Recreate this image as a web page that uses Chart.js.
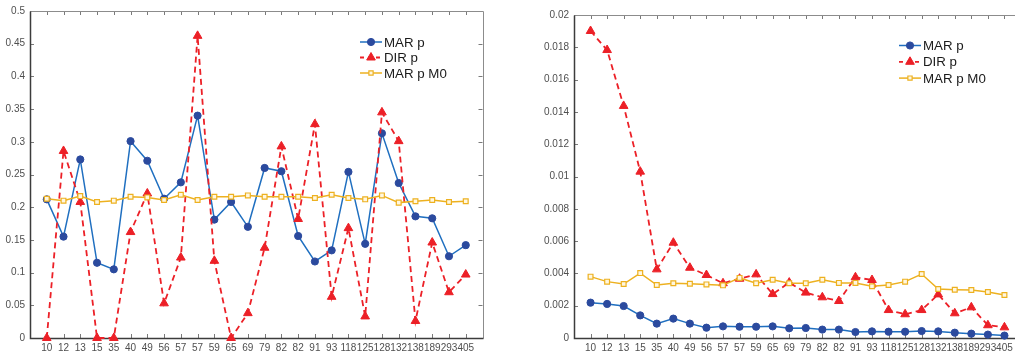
<!DOCTYPE html>
<html>
<head>
<meta charset="utf-8">
<script src="https://cdn.jsdelivr.net/npm/chart.js@4/dist/chart.umd.min.js"></script>
<style>
  html, body { margin: 0; padding: 0; background: #fff; overflow: hidden; }
  body { width: 1015px; height: 356px; position: relative; }
  canvas { position: absolute; top: 0; }
  #leftChart { left: 0; }
  #rightChart { left: 540px; }
</style>
</head>
<body>
<canvas id="leftChart" width="500" height="356"></canvas>
<canvas id="rightChart" width="490" height="356"></canvas>
<script>
const categories = ['10', '12', '13', '15', '35', '40', '49', '56', '57', '57', '59', '65', '69',
    '79', '82', '82', '91', '93', '118', '125', '128', '132', '138', '189', '293', '405'];
const seriesNames = ['MAR p', 'DIR p', 'MAR p M0'];

// left panel
const marP = [0.212, 0.155, 0.273, 0.115, 0.105, 0.301, 0.271, 0.213, 0.238, 0.340, 0.181, 0.208, 0.170,
    0.260, 0.255, 0.156, 0.117, 0.134, 0.254, 0.144, 0.313, 0.237, 0.186, 0.183, 0.125, 0.142];
const dirP = [0, 0.286, 0.208, 0, 0, 0.162, 0.221, 0.053, 0.123, 0.462, 0.118, 0, 0.038,
    0.138, 0.293, 0.182, 0.327, 0.063, 0.168, 0.033, 0.345, 0.301, 0.026, 0.146, 0.070, 0.097];
const marPM0 = [0.213, 0.210, 0.217, 0.208, 0.210, 0.216, 0.215, 0.211, 0.219, 0.211, 0.216, 0.216, 0.218,
    0.216, 0.216, 0.216, 0.214, 0.219, 0.214, 0.212, 0.218, 0.207, 0.209, 0.211, 0.208, 0.209];
const leftYMax = 0.5;
const leftYStep = 0.05;

// right panel
const marPRight = [0.00219, 0.00211, 0.00198, 0.00140, 0.00089, 0.00120, 0.00089, 0.00064, 0.00072, 0.00070,
    0.00070, 0.00072, 0.00060, 0.00062, 0.00052, 0.00052, 0.00037, 0.00041, 0.00039, 0.00039, 0.00043,
    0.00041, 0.00033, 0.00027, 0.00021, 0.00015];
const dirPRight = [0.01901, 0.01783, 0.01437, 0.01030, 0.00425, 0.00590, 0.00435, 0.00390, 0.00339, 0.00367,
    0.00394, 0.00272, 0.00343, 0.00281, 0.00252, 0.00229, 0.00376, 0.00359, 0.00173, 0.00147, 0.00173,
    0.00270, 0.00153, 0.00190, 0.00079, 0.00066];
const marPM0Right = [0.00380, 0.00349, 0.00334, 0.00402, 0.00328, 0.00339, 0.00336, 0.00332, 0.00326, 0.00372,
    0.00339, 0.00361, 0.00339, 0.00339, 0.00361, 0.00341, 0.00341, 0.00320, 0.00328, 0.00349, 0.00396,
    0.00303, 0.00299, 0.00297, 0.00285, 0.00266];
const rightYMax = 0.02;
const rightYStep = 0.002;

const FONT = "'Liberation Sans', Arial, Helvetica, sans-serif";
const BLUE_LINE = '#1f6fc0';
const BLUE_MARK = '#2b4a9e';
const RED = '#ec2027';
const YELLOW = '#edb120';

const toPoints = values => values.map((v, i) => ({ x: i, y: v }));

function makeDatasets(mar, dir, m0) {
    return [{
        label: seriesNames[0],
        data: toPoints(mar),
        borderColor: BLUE_LINE,
        borderWidth: 1.5,
        pointStyle: 'circle',
        pointRadius: 3.6,
        pointBackgroundColor: BLUE_MARK,
        pointBorderColor: BLUE_MARK,
        pointBorderWidth: 1,
        order: 3
    }, {
        label: seriesNames[1],
        data: toPoints(dir),
        borderColor: RED,
        borderWidth: 1.8,
        borderDash: [6, 4],
        pointStyle: 'triangle',
        pointRadius: 5,
        pointBackgroundColor: RED,
        pointBorderColor: RED,
        pointBorderWidth: 1,
        order: 2
    }, {
        label: seriesNames[2],
        data: toPoints(m0),
        borderColor: YELLOW,
        borderWidth: 1.5,
        pointStyle: 'rect',
        pointRadius: 3.4,
        pointBackgroundColor: '#fff7e0',
        pointBorderColor: YELLOW,
        pointBorderWidth: 1.2,
        order: 1
    }];
}

const fmt = v => String(Number(v.toFixed(4)));

// Box with inward tick marks, drawn under the lines
const framePlugin = {
    id: 'frame',
    beforeDatasetsDraw(chart) {
        const { ctx, chartArea: a, scales: { x, y } } = chart;
        ctx.save();
        ctx.strokeStyle = '#7a7a7a';
        ctx.lineWidth = 1;
        ctx.beginPath();
        categories.forEach((_, i) => {
            const px = Math.round(x.getPixelForValue(i)) + 0.5;
            ctx.moveTo(px, a.bottom);
            ctx.lineTo(px, a.bottom - 4);
            ctx.moveTo(px, a.top);
            ctx.lineTo(px, a.top + 4);
        });
        y.ticks.forEach(t => {
            const py = Math.round(y.getPixelForValue(t.value)) + 0.5;
            ctx.moveTo(a.left, py);
            ctx.lineTo(a.left + 4, py);
            ctx.moveTo(a.right, py);
            ctx.lineTo(a.right - 4, py);
        });
        ctx.stroke();

        const l = Math.round(a.left) + 0.5, r = Math.round(a.right) + 0.5;
        const t = Math.round(a.top) + 0.5, b = Math.round(a.bottom) + 0.5;
        ctx.strokeStyle = '#8c8c8c';
        ctx.beginPath();
        ctx.moveTo(l, t);
        ctx.lineTo(r, t);
        ctx.lineTo(r, b);
        ctx.stroke();
        ctx.strokeStyle = '#3c3c3c';
        ctx.lineWidth = 1.5;
        ctx.beginPath();
        ctx.moveTo(l, t);
        ctx.lineTo(l, b);
        ctx.lineTo(r, b);
        ctx.stroke();
        ctx.restore();
    }
};

// Legend without a box, placed inside the plot area
const boxLegendPlugin = {
    id: 'boxLegend',
    afterDatasetsDraw(chart, args, opts) {
        const ctx = chart.ctx;
        ctx.save();
        ctx.font = '13.3px ' + FONT;
        ctx.textBaseline = 'middle';
        ctx.fillStyle = '#1a1a1a';
        chart.data.datasets.forEach((ds, i) => {
            const y = opts.y + i * opts.rowGap;
            const x0 = opts.x, x1 = opts.x + 22;
            ctx.strokeStyle = ds.borderColor;
            ctx.lineWidth = ds.borderWidth;
            ctx.setLineDash(ds.borderDash ? [4, 4] : []);
            ctx.beginPath();
            ctx.moveTo(x0, y);
            ctx.lineTo(x1, y);
            ctx.stroke();
            ctx.setLineDash([]);
            ctx.fillStyle = ds.pointBackgroundColor;
            ctx.strokeStyle = ds.pointBorderColor;
            ctx.lineWidth = ds.pointBorderWidth;
            Chart.helpers.drawPoint(ctx, {
                pointStyle: ds.pointStyle,
                radius: ds.pointStyle === 'rect' ? 3 : ds.pointRadius,
                rotation: 0,
                borderWidth: ds.pointBorderWidth
            }, (x0 + x1) / 2, y);
            ctx.fillStyle = '#1a1a1a';
            ctx.fillText(ds.label, x1 + 2, y + 1);
        });
        ctx.restore();
    }
};

function buildChart(id, datasets, yMax, yStep, pad, yWidth, legendPos) {
    const tickFont = { family: FONT, size: 10 };
    return new Chart(document.getElementById(id), {
        type: 'line',
        data: { datasets },
        options: {
            responsive: false,
            animation: false,
            clip: false,
            layout: { padding: pad },
            elements: { line: { tension: 0 } },
            plugins: {
                legend: { display: false },
                tooltip: { enabled: false },
                boxLegend: legendPos
            },
            scales: {
                x: {
                    type: 'linear',
                    min: -1,
                    max: categories.length,
                    grid: { display: false, drawTicks: false },
                    border: { display: false },
                    ticks: {
                        stepSize: 1,
                        autoSkip: false,
                        maxRotation: 0,
                        maxTicksLimit: 100,
                        padding: 4,
                        color: '#4f4f4f',
                        font: tickFont,
                        callback: v => categories[v] ?? ''
                    },
                    afterFit: s => { s.height = 18; }
                },
                y: {
                    min: 0,
                    max: yMax,
                    grid: { display: false, drawTicks: false },
                    border: { display: false },
                    ticks: {
                        stepSize: yStep,
                        padding: 5,
                        color: '#4f4f4f',
                        font: tickFont,
                        callback: v => fmt(v)
                    },
                    afterFit: s => { s.width = yWidth; }
                }
            }
        },
        plugins: [framePlugin, boxLegendPlugin]
    });
}

document.addEventListener('DOMContentLoaded', () => {
    buildChart('leftChart', makeDatasets(marP, dirP, marPM0), leftYMax, leftYStep,
        { top: 11, right: 17.5, bottom: 0, left: 0 }, 30, { x: 360, y: 42, rowGap: 15.5 });
    buildChart('rightChart', makeDatasets(marPRight, dirPRight, marPM0Right), rightYMax, rightYStep,
        { top: 15, right: 9, bottom: 0, left: 0 }, 34, { x: 359, y: 45.5, rowGap: 16.3 });
});
</script>
</body>
</html>
